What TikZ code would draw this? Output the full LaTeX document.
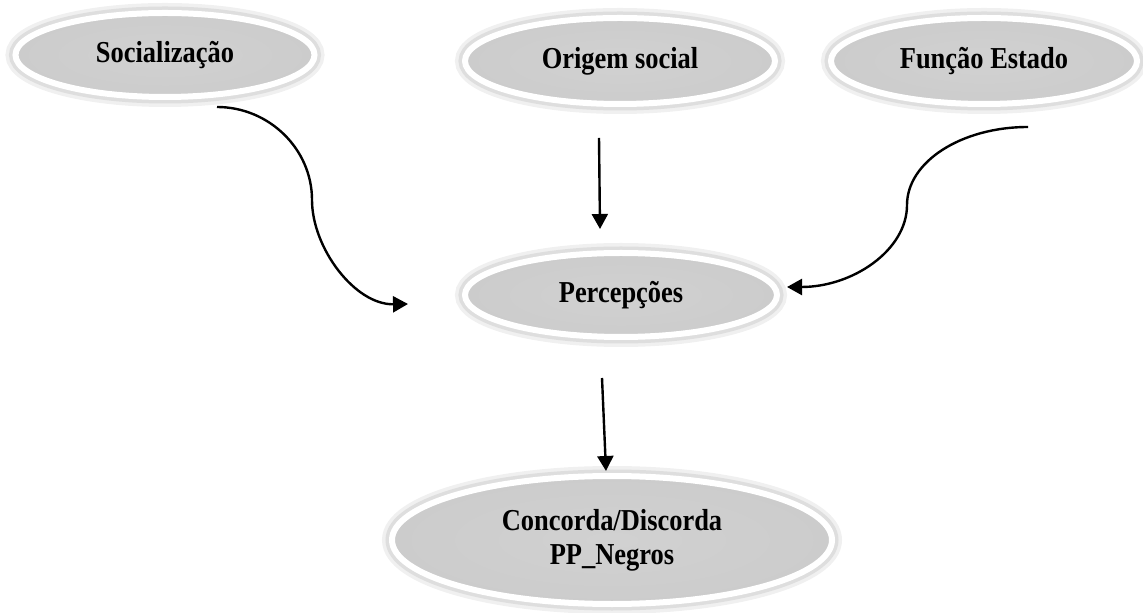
\documentclass[tikz,border=0pt]{standalone}
\usepackage{fontspec}
\setmainfont[FakeStretch=0.87]{Liberation Serif}
\usetikzlibrary{arrows.meta,shapes.geometric}

\pgfdeclareradialshading{ellshade}{\pgfpoint{0bp}{0bp}}{color(0bp)=(gray!36); color(38bp)=(gray!42); color(47bp)=(gray!55); color(50bp)=(gray!70); color(51bp)=(gray!70)}

\begin{document}
\begin{tikzpicture}[x=0.5pt,y=-0.5pt,->,>={Triangle[length=7.5pt,width=8pt]},line width=1.2pt,
  var node/.style={ellipse,shade,shading=ellshade,draw=white,line width=3pt,inner sep=0pt,outer sep=0pt,
    align=center,font=\fontsize{15.2}{17}\selectfont\bfseries,
    preaction={draw=black!6,line width=10pt},preaction={draw=black!13,line width=6.5pt}}]

  \useasboundingbox (0,0) rectangle (1143,613);

  \node[var node, minimum width=155pt, minimum height=43pt] (o) at (620,61) {Origem social};
  \node[var node, minimum width=149.5pt, minimum height=42pt] (s) [left of=o, node distance=227.5pt, yshift=3pt] {Socialização};
  \node[var node, minimum width=153pt, minimum height=43pt] (f) [right of=o, node distance=182pt] {Função Estado};
  \node[var node, minimum width=156pt, minimum height=42pt] (p) [below of=o, node distance=117pt, xshift=0.5pt] {Percepções};
  \node[var node, minimum width=220pt, minimum height=64pt] (c) [below of=p, node distance=122.5pt, xshift=-4.5pt] {Concorda/Discorda\\PP\_Negros};

  \coordinate (lbend) at (312,200);
  \coordinate (rbend) at (907,205);

  \draw ([xshift=26pt,yshift=-5pt]s.south) .. controls +(52,0) and +(0,-51) .. (lbend)
    .. controls +(0,48) and +(-53,1) .. ([xshift=-28.5pt,yshift=-4.5pt]p.west);
  \draw ([xshift=-10.5pt,yshift=-17pt]o.south) -- ([xshift=-10.5pt,yshift=12pt]p.north);
  \draw ([xshift=22pt,yshift=-11.5pt]f.south) .. controls +(-67,0) and +(0,-43) .. (rbend)
    .. controls +(0,45) and +(66,0) .. ([xshift=5pt,yshift=4pt]p.east);
  \draw ([xshift=-9.5pt,yshift=-20.5pt]p.south) -- ([xshift=-3pt,yshift=2.5pt]c.north);
\end{tikzpicture}
\end{document}
